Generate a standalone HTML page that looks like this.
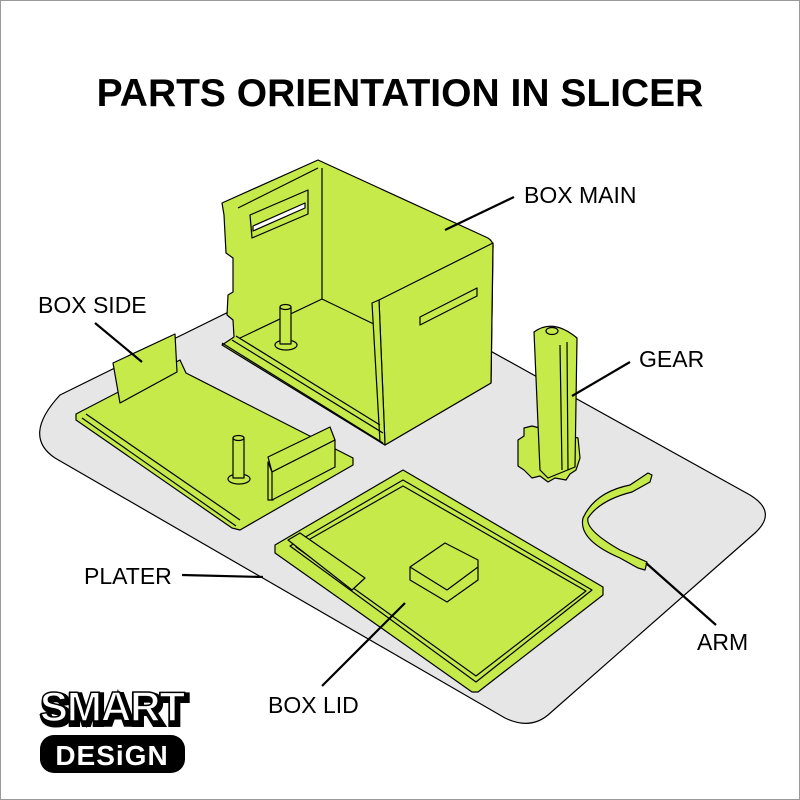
<!DOCTYPE html>
<html><head><meta charset="utf-8"><style>
html,body{margin:0;padding:0;background:#fff}
svg{display:block}
text{font-family:"Liberation Sans",sans-serif}
</style></head><body>
<svg width="800" height="800" viewBox="0 0 800 800" xmlns="http://www.w3.org/2000/svg">
<rect x="0.5" y="0.5" width="799" height="799" fill="#fff" stroke="#999" stroke-width="1"/>
<text x="400" y="106" text-anchor="middle" font-size="39" font-weight="bold" fill="#000">PARTS ORIENTATION IN SLICER</text>

<!-- plater -->
<path d="M60,395 L330,262 L750,495 Q778,512 755,533 L548,715 Q530,730 505,718 L55,458 Q22,436 60,395 Z" fill="#e6e6e6" stroke="#000" stroke-width="1.2"/>

<g fill="#c5ea4a" stroke="#000" stroke-width="1.2" stroke-linejoin="round">
<!-- box main -->
<path d="M222,203 L318,160 L488,238 Q494,242 493,248 L491,383 L385,445 L222,345 L234,337 L233,320 L227,315 L228,295 L233,292 L233,258 L226,253 L224,215 Z"/>
<path d="M238,208 L318,168" fill="none"/>
<path d="M322,168 L322,299 L382,328" fill="none"/>
<path d="M240,338 L322,299" fill="none"/>
<path d="M379,300 L493,243 L491,383 L385,445 Z"/>
<path d="M372,303 L379,300 L385,445 L380,442 Z"/>
<path d="M222,343 L383,443 M232,340 L383,433 M236,336 L380,425" fill="none"/>
<path d="M420,317 L477,288 L477,296 L420,325 Z"/>
<path d="M250,215 L308,190 L308,214 L252,238 Z"/>
<path d="M253,226 L305,203 L305,208 L253,231 Z" fill="#fff"/>
<ellipse cx="286" cy="345" rx="11" ry="5"/>
<rect x="280" y="307" width="11" height="37"/>
<ellipse cx="285.5" cy="307" rx="5.5" ry="2.5"/>

<!-- box side -->
<path d="M76,414 L180,360 L186,373 L353,458 L353,465 L240,530 L232,528 L76,420 Z"/>
<path d="M86,414 L240,520 M82,418 L236,526" fill="none"/>
<path d="M113,363 L175,334 L177,372 L120,403 Z"/>
<path d="M268,457 L330,427 L335,440 L272,472 Z"/>
<path d="M268,462 L272,472 L273,500 L268,500 Z"/>
<path d="M272,472 L335,440 L335,467 L272,500 Z"/>
<ellipse cx="239" cy="479" rx="11" ry="5"/>
<rect x="233" y="438" width="11" height="40"/>
<ellipse cx="238.5" cy="438" rx="5.5" ry="2.5"/>

<!-- gear -->
<path d="M518,440 L524,436 L524,428 L532,426 L578,438 L580,458 L576,470 L570,474 L566,480 L555,478 L548,482 L540,476 L532,478 L524,470 L518,466 Z"/>
<path d="M534,332 Q553,318 577,338 L575,467 L548,478 L540,470 Z"/>
<ellipse cx="552" cy="331" rx="6" ry="3.5" fill="#c5ea4a"/>
<path d="M560,345 L562,470 M567,342 L568,470" fill="none"/>

<!-- box lid -->
<path d="M275,545 L403,470 L603,587 L603,595 L478,692 L472,692 L275,553 Z"/>
<path d="M290,546 L403,480 L592,590 L476,682 Z" fill="none"/>
<path d="M296,547 L403,486 L586,591 L476,676 Z" fill="none"/>
<path d="M288,540 L300,533 L365,578 L352,590 Z" fill="#c5ea4a"/>
<path d="M410,567 L445,543 L478,560 L478,580 L447,602 L410,580 Z"/>
<path d="M410,567 L447,590 L478,567" fill="none"/>

<!-- arm -->
<path d="M652,475 L650,482 L632,492 Q600,500 588,518 Q585,530 620,550 L647,562 L645,570 L638,568 L620,558 Q578,540 583,518 Q595,492 630,485 L648,473 Z"/>
</g>

<!-- leaders -->
<g stroke="#000" stroke-width="2.2" fill="none">
<line x1="514" y1="197" x2="445" y2="230"/>
<line x1="95" y1="323" x2="142" y2="362"/>
<line x1="630" y1="362" x2="572" y2="396"/>
<line x1="182" y1="575" x2="263" y2="577"/>
<line x1="322" y1="686" x2="405" y2="603"/>
<line x1="716" y1="625" x2="646" y2="563"/>
</g>
<g font-size="23" fill="#000">
<text x="524" y="203">BOX MAIN</text>
<text x="38" y="313">BOX SIDE</text>
<text x="639" y="367">GEAR</text>
<text x="84" y="584">PLATER</text>
<text x="268" y="713">BOX LID</text>
<text x="697" y="650">ARM</text>
</g>

<!-- logo -->
<text x="114" y="724" text-anchor="middle" font-size="42" font-weight="bold" fill="#000" stroke="#000" stroke-width="6" letter-spacing="-1">SMART</text>
<text x="112" y="721" text-anchor="middle" font-size="42" font-weight="bold" fill="#fff" stroke="#000" stroke-width="1.5" letter-spacing="-1">SMART</text>
<rect x="40" y="735" width="145" height="38" rx="14" fill="#000"/>
<text x="112" y="765" text-anchor="middle" font-size="28" font-weight="bold" fill="#fff" letter-spacing="1">DESiGN</text>
</svg>
</body></html>
